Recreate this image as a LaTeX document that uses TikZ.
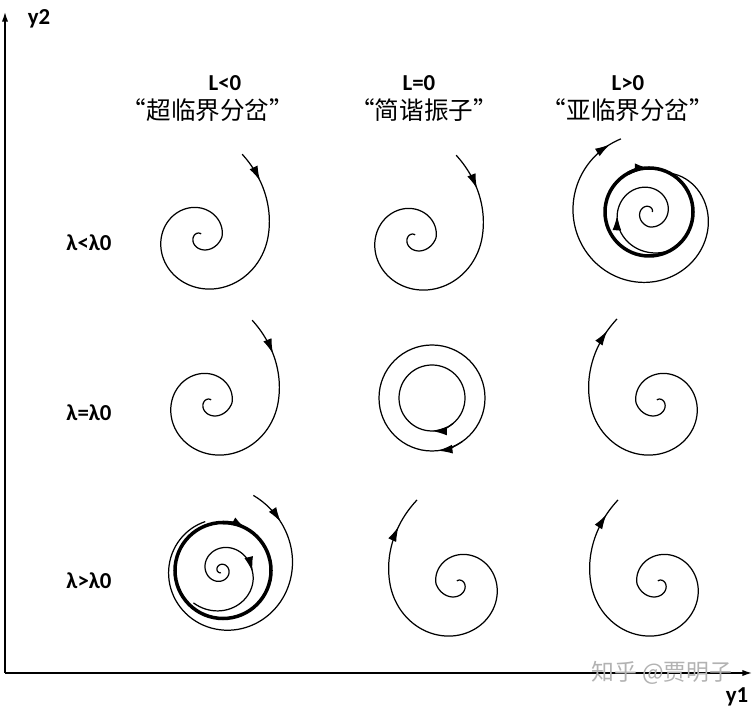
\documentclass[tikz,border=0pt]{standalone}
\usepackage{fontspec}
\setmainfont{Carlito}
\newfontfamily\cjk{Noto Sans CJK SC}
\usetikzlibrary{arrows.meta}

\begin{document}
\begin{tikzpicture}[x=0.02cm, y=0.02cm,
        lab/.style={font=\bfseries\fontsize{13}{15}\selectfont},
        zh/.style={font=\cjk\fontsize{14}{16}\selectfont},
        traj/.style={line width=0.7pt},
        limitcycle/.style={line width=2pt},
        arr/.style={-{Latex[length=8.5pt,width=5pt]}},
        rarr/.style={{Latex[length=8.5pt,width=5pt]}-},
        axis/.style={line width=0.8pt, -{Latex[length=5.5pt,width=3.6pt]}},
        declare function={
            sink(\t)=68*exp(0.18*\t/57.2958+0.2*min(\t+360,0)/57.2958)*(1+0.1*(max(\t,0)/57.2958)^2);
            rinthree(\t)=44*exp(-0.16*(-60-\t)/57.2958+0.16*min(\t+450,0)/57.2958);
            routthree(\t)=44.5+37*(1-exp(-(60-\t)/57.2958/2.2));
            rinseven(\t)=(\t>=0)*31*exp(-0.218*\t/57.2958)+(\t<0)*(47-16*exp(0.6*\t/57.2958));
            routseven(\t)=48+33*exp(-0.38*(68-\t)/57.2958);
        }
    ]
    \useasboundingbox (0,0) rectangle (753,712);

    % axes
    \coordinate (o) at (5,39);
    \coordinate (ytop) at (5,700);
    \coordinate (xend) at (752,39);
    \draw[axis] (o) -- (ytop);
    \draw[axis] (o) -- (xend);
    \node[lab] (ylab) at (39,693) {y2};
    \node[lab] (xlab) at (737,15) {y1};
    \node[zh, text=black!30, font=\cjk\fontsize{13}{15}\selectfont] (wmark) at (662,39) {知乎 @贾明子};

    % column and row labels
    \node[lab] (lneg) at (225,629) {L<0};
    \node[lab] (lzero) at (419,629) {L=0};
    \node[lab] (lpos) at (628,629) {L>0};
    \node[zh] (tsuper) at (208,602) {“超临界分岔”};
    \node[zh] (tharm) at (424,602) {“简谐振子”};
    \node[zh] (tsub) at (628,602) {“亚临界分岔”};
    \node[lab] (rless) at (89,469) {λ<λ0};
    \node[lab] (requal) at (89,299) {λ=λ0};
    \node[lab] (rgreat) at (89,131) {λ>λ0};

    % stable foci
    \foreach \cx/\cy/\ta in {200/475/43, 414/474/38, 210/309/38}{
        \begin{scope}[shift={(\cx,\cy)}]
            \draw[traj, arr] plot[domain=63:\ta, samples=8, smooth] ({sink(\x)*cos(\x)},{sink(\x)*sin(\x)});
            \draw[traj] plot[domain=\ta+3:-650, samples=180, smooth] ({sink(\x)*cos(\x)},{sink(\x)*sin(\x)});
        \end{scope}}

    % unstable foci
    \foreach \cx/\cy/\ta in {658/309/55, 458/128/44, 659/128/53}{
        \begin{scope}[shift={(\cx,\cy)}, xscale=-1]
            \draw[traj] plot[domain=64:\ta-3, samples=8, smooth] ({sink(\x)*cos(\x)},{sink(\x)*sin(\x)});
            \draw[traj, rarr] plot[domain=\ta:-650, samples=180, smooth] ({sink(\x)*cos(\x)},{sink(\x)*sin(\x)});
        \end{scope}}

    % centre: two closed orbits
    \coordinate (cfive) at (432,314);
    \draw[traj] (cfive) circle[radius=33];
    \draw[traj] (cfive) circle[radius=53];
    \draw[traj, arr] (cfive) ++(-50:33) arc[start angle=-50, end angle=-90, radius=33];
    \draw[traj, arr] (cfive) ++(-55:53) arc[start angle=-55, end angle=-84, radius=53];

    % subcritical, unstable cycle
    \coordinate (cthree) at (649,500);
    \draw[limitcycle] (cthree) circle[radius=44];
    \draw[limitcycle, arr] (cthree) ++(118:44) arc[start angle=118, end angle=89, radius=44];
    \begin{scope}[shift={(cthree)}]
        \draw[traj, arr] plot[domain=-60:-174, samples=20, smooth] ({rinthree(\x)*cos(\x)},{rinthree(\x)*sin(\x)});
        \draw[traj] plot[domain=-170:-720, samples=150, smooth] ({rinthree(\x)*cos(\x)},{rinthree(\x)*sin(\x)});
        \draw[traj, arr] plot[domain=60:-240, samples=70, smooth] ({routthree(\x)*cos(\x)},{routthree(\x)*sin(\x)});
        \draw[traj] plot[domain=-237:-249, samples=5, smooth] ({routthree(\x)*cos(\x)},{routthree(\x)*sin(\x)});
    \end{scope}

    % supercritical, stable cycle
    \coordinate (cseven) at (223,141.5);
    \draw[limitcycle] (cseven) circle[radius=48];
    \draw[limitcycle, arr] (cseven) ++(90:48) arc[start angle=90, end angle=61, radius=48];
    \begin{scope}[shift={(221,142)}]
        \draw[traj, arr] plot[domain=630:-3, samples=160, smooth] ({rinseven(\x)*cos(\x)},{rinseven(\x)*sin(\x)});
        \draw[traj] plot[domain=1:-130, samples=30, smooth] ({rinseven(\x)*cos(\x)},{rinseven(\x)*sin(\x)});
    \end{scope}
    \begin{scope}[shift={(cseven)}]
        \draw[traj, arr] plot[domain=68:40, samples=8, smooth] ({routseven(\x)*cos(\x)},{routseven(\x)*sin(\x)});
        \draw[traj] plot[domain=43:-250, samples=70, smooth] ({routseven(\x)*cos(\x)},{routseven(\x)*sin(\x)});
    \end{scope}
\end{tikzpicture}
\end{document}
